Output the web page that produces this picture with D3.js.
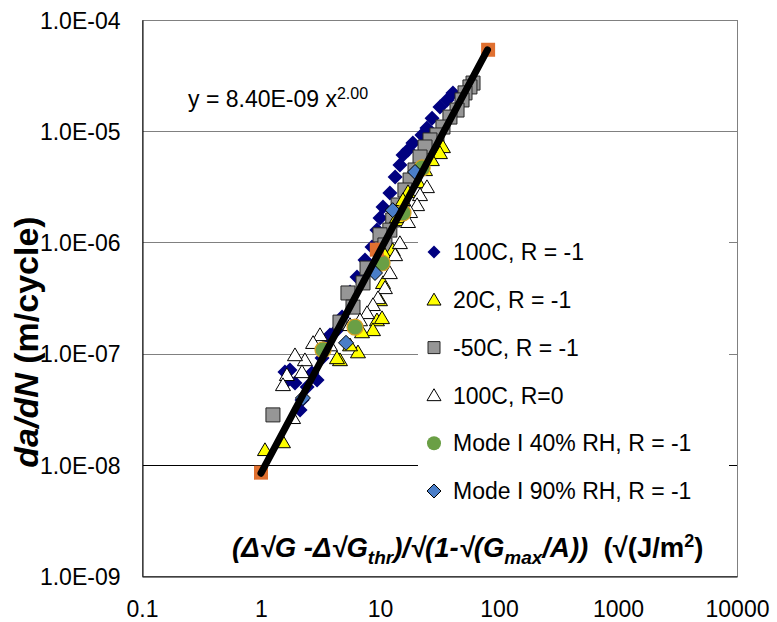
<!DOCTYPE html>
<html>
<head>
<meta charset="utf-8">
<script src="https://cdn.jsdelivr.net/npm/d3@7"></script>
<style>
  html, body { margin: 0; padding: 0; background: #fff; }
  svg { display: block; font-family: Arial, "Liberation Sans", sans-serif; }
</style>
</head>
<body>
<svg id="chart" width="777" height="622"></svg>
<script>
// ---------- DATA ----------
const xTicks = [0.1, 1, 10, 100, 1000, 10000];
const xTickLabels = ["0.1", "1", "10", "100", "1000", "10000"];
const yTicks = [1e-9, 1e-8, 1e-7, 1e-6, 1e-5, 1e-4];
const yTickLabels = ["1.0E-09", "1.0E-08", "1.0E-07", "1.0E-06", "1.0E-05", "1.0E-04"];

const seriesNames = ["100C, R = -1", "20C, R = -1", "-50C, R = -1", "100C, R=0",
                     "Mode I 40% RH, R = -1", "Mode I 90% RH, R = -1"];

// 100C, R = -1
const s100X = [41.0, 36.6, 31.9, 27.4, 24.8, 22.5, 18.9, 17.2, 15.6, 14.7, 13.4, 12.1, 10.6, 10.0, 9.43,
               8.57, 7.48, 6.41, 5.60, 4.80, 4.35, 3.80, 3.66, 3.26, 2.96, 2.68, 2.44, 2.21, 2.13, 1.75,
               1.69, 1.93, 1.59];
const s100Y = [2.21e-5, 1.91e-5, 1.65e-5, 1.31e-5, 1.07e-5, 9.25e-6, 7.83e-6, 6.78e-6, 6.11e-6, 4.97e-6,
               3.87e-6, 2.78e-6, 2.08e-6, 1.66e-6, 1.29e-6, 9.10e-7, 6.95e-7, 4.89e-7, 3.58e-7, 2.13e-7,
               1.63e-7, 1.47e-7, 1.33e-7, 9.12e-8, 5.80e-8, 6.69e-8, 5.01e-8, 3.83e-8, 3.11e-8, 7.12e-8,
               5.80e-8, 5.44e-8, 6.83e-8];
// 20C, R = -1
const s20X = [33.8, 31.9, 27.3, 23.9, 20.9, 17.2, 15.6, 14.7, 13.9, 12.8, 11.0, 10.6, 10.0, 9.43, 8.73,
              10.4, 7.06, 6.53, 4.61, 4.35, 1.53, 1.08, 5.60];
const s20Y = [7.21e-6, 6.37e-6, 5.51e-6, 4.48e-6, 3.49e-6, 2.84e-6, 2.41e-6, 1.59e-6, 1.69e-6, 8.55e-7,
              7.70e-7, 4.32e-7, 3.03e-7, 2.00e-7, 1.63e-7, 2.09e-7, 1.56e-7, 1.03e-7, 8.75e-8, 9.12e-8,
              1.60e-8, 1.36e-8, 1.19e-7];
// -50C, R = -1
const sm50X = [60.5, 57.0, 51.8, 48.9, 44.4, 38.7, 33.8, 30.1, 26.3, 23.9, 21.7, 19.7, 17.9, 16.2, 14.2,
               12.8, 12.1, 10.0, 11.0, 7.78, 7.20, 5.38, 5.93, 4.61, 1.26];
const sm50Y = [2.71e-5, 2.50e-5, 2.21e-5, 1.91e-5, 1.55e-5, 1.34e-5, 1.09e-5, 9.25e-6, 8.34e-6, 7.21e-6,
               5.86e-6, 4.48e-6, 3.64e-6, 2.96e-6, 2.17e-6, 1.59e-6, 1.29e-6, 1.17e-6, 9.48e-7, 5.88e-7,
               4.32e-7, 3.51e-7, 2.62e-7, 1.92e-7, 2.81e-8];
// 100C, R=0
const sR0X = [24.8, 21.7, 20.5, 17.9, 17.2, 14.7, 13.4, 12.1, 11.0, 9.62, 8.73, 7.78, 6.79, 5.60, 3.80,
              3.13, 2.74, 2.34, 2.21, 1.93, 1.65, 1.53, 1.86];
const sR0Y = [3.15e-6, 2.67e-6, 2.17e-6, 1.88e-6, 1.53e-6, 9.88e-7, 7.70e-7, 5.31e-7, 3.89e-7, 3.16e-7,
              2.74e-7, 2.32e-7, 2.00e-7, 1.81e-7, 1.19e-7, 1.47e-7, 1.25e-7, 8.75e-8, 6.83e-8, 9.70e-8,
              6.43e-8, 5.22e-8, 2.64e-8];
// Mode I 40% RH, R = -1
const s40X = [22.6, 15.6, 10.4, 6.17, 3.32];
const s40Y = [4.67e-6, 1.84e-6, 6.53e-7, 1.73e-7, 1.08e-7];
// Mode I 90% RH, R = -1
const s90X = [19.7, 12.8, 9.08, 5.18, 2.25];
const s90Y = [4.30e-6, 1.95e-6, 5.31e-7, 1.25e-7, 3.99e-8];
// fit markers
const fitX = [1.0, 9.4, 81];
const fitY = [8.5e-9, 8.6e-7, 5.4e-5];
// power-law trend line  y = 8.40E-09 x^2.00  (end points)
const trendX = [1.0, 80];
const trendY = [8.4e-9, 5.38e-5];

// ---------- CHART ----------
const svg = d3.select("#chart");
const plot = { left: 142, right: 737, top: 20, bottom: 576 };

const x = d3.scaleLog().domain([0.1, 10000]).range([plot.left, plot.right]);
const y = d3.scaleLog().domain([1e-9, 1e-4]).range([plot.bottom, plot.top]);

// gridlines
svg.append("g").selectAll("line").data(yTicks.slice(1, 5)).enter().append("line")
  .attr("x1", plot.left).attr("x2", plot.right)
  .attr("y1", d => Math.round(y(d)) + 0.5).attr("y2", d => Math.round(y(d)) + 0.5)
  .attr("stroke", (d, i) => i === 0 ? "#000" : "#808080").attr("stroke-width", 1);

// plot frame
svg.append("rect").attr("x", plot.left + 0.5).attr("y", plot.top + 0.5)
  .attr("width", plot.right - plot.left).attr("height", plot.bottom - plot.top)
  .attr("fill", "none").attr("stroke", "#808080");

// axes
const xAxis = d3.axisBottom(x).tickValues(xTicks).tickFormat((d, i) => xTickLabels[i]).tickSize(0).tickPadding(24);
const yAxis = d3.axisLeft(y).tickValues(yTicks).tickFormat((d, i) => yTickLabels[i]).tickSize(0).tickPadding(22);
const gx = svg.append("g").attr("transform", `translate(0,${plot.bottom + 0.5})`).call(xAxis);
const gy = svg.append("g").attr("transform", `translate(${plot.left + 0.5},0)`).call(yAxis);
[gx, gy].forEach(g => {
  g.select(".domain").attr("stroke", "#000");
  g.selectAll("text").attr("font-size", 23).attr("fill", "#000")
    .attr("font-family", "Arial, 'Liberation Sans', sans-serif");
});
gy.selectAll("text").attr("dy", "0.36em");

// markers
const diamond = s => `M0,${-s}L${s},0L0,${s}L${-s},0Z`;
const tri = s => `M0,${-s * 0.95}L${s},${s * 0.75}L${-s},${s * 0.75}Z`;
const square = s => `M${-s},${-s}H${s}V${s}H${-s}Z`;

function drawSeries(xs, ys, pathFn, fill, stroke, sw) {
  svg.append("g").selectAll("path").data(xs.map((d, i) => [d, ys[i]])).enter().append("path")
    .attr("transform", d => `translate(${x(d[0])},${y(d[1])})`)
    .attr("d", pathFn).attr("fill", fill).attr("stroke", stroke).attr("stroke-width", sw);
}
drawSeries(s100X, s100Y, () => diamond(7.5), "#000080", "none", 0);
drawSeries(sm50X, sm50Y, () => square(7), "#969696", "#262626", 1);
drawSeries(s20X, s20Y, () => tri(7.5), "#FFFF00", "#000", 1);
drawSeries(sR0X, sR0Y, () => tri(7.5), "#FFFFFF", "#000", 1);
svg.append("g").selectAll("circle").data(s40X.map((d, i) => [d, s40Y[i]])).enter().append("circle")
  .attr("cx", d => x(d[0])).attr("cy", d => y(d[1])).attr("r", 8)
  .attr("fill", "#6A9F45").attr("stroke", "#D8A020").attr("stroke-width", 1.2);
drawSeries(s90X, s90Y, () => diamond(7.5), "#4A7EC8", "#000", 1);
drawSeries(fitX, fitY, () => square(7), "#E07030", "none", 0);

// trend line
svg.append("path")
  .datum(trendX.map((d, i) => [d, trendY[i]]))
  .attr("d", d3.line().x(d => x(d[0])).y(d => y(d[1])))
  .attr("fill", "none").attr("stroke", "#000").attr("stroke-width", 7).attr("stroke-linecap", "round");

// equation
const eq = svg.append("text").attr("x", 188).attr("y", 107).attr("font-size", 23).attr("fill", "#000");
eq.append("tspan").text("y = 8.40E-09 x");
eq.append("tspan").attr("font-size", 16).attr("dy", -8).text("2.00");

// legend
const legend = svg.append("g");
legend.append("rect").attr("x", 418).attr("y", 228).attr("width", 311).attr("height", 285).attr("fill", "#fff");
const legY = d3.scaleLinear().domain([0, 5]).range([252, 491]);
const legMarks = [
  g => g.append("path").attr("d", diamond(6.5)).attr("fill", "#000080"),
  g => g.append("path").attr("d", tri(7)).attr("fill", "#FFFF00").attr("stroke", "#000").attr("stroke-width", 1),
  g => g.append("path").attr("d", square(6)).attr("fill", "#969696").attr("stroke", "#262626").attr("stroke-width", 1),
  g => g.append("path").attr("d", tri(7)).attr("fill", "#fff").attr("stroke", "#000").attr("stroke-width", 1),
  g => g.append("circle").attr("r", 7).attr("fill", "#6A9F45"),
  g => g.append("path").attr("d", diamond(7)).attr("fill", "#4A7EC8").attr("stroke", "#000").attr("stroke-width", 1)
];
seriesNames.forEach((name, i) => {
  const g = legend.append("g").attr("transform", `translate(434,${legY(i)})`);
  legMarks[i](g);
  g.append("text").attr("x", 19).attr("dy", "0.36em").attr("font-size", 23).attr("fill", "#000").text(name);
});

// y axis title
const yt = svg.append("text").attr("transform", "translate(38,342) rotate(-90)")
  .attr("text-anchor", "middle").attr("font-size", 34).attr("font-weight", "bold").attr("fill", "#000");
yt.append("tspan").attr("font-style", "italic").text("da/dN");
yt.append("tspan").text(" (m/cycle)");

// x axis title
const xt = svg.append("text").attr("x", 232).attr("y", 557).attr("font-size", 27.5)
  .attr("font-weight", "bold").attr("fill", "#000").attr("xml:space", "preserve");
xt.append("tspan").attr("font-style", "italic").text("(Δ√G -Δ√G");
xt.append("tspan").attr("font-style", "italic").attr("font-size", 19).attr("dy", 7).text("thr");
xt.append("tspan").attr("font-style", "italic").attr("dy", -7).text(")/√(1-√(G");
xt.append("tspan").attr("font-style", "italic").attr("font-size", 19).attr("dy", 7).text("max");
xt.append("tspan").attr("font-style", "italic").attr("dy", -7).text("/A))\u00a0\u00a0");
xt.append("tspan").text("(√(J/m");
xt.append("tspan").attr("font-size", 18).attr("dy", -10).text("2");
xt.append("tspan").attr("dy", 10).text(")");
</script>
</body>
</html>
